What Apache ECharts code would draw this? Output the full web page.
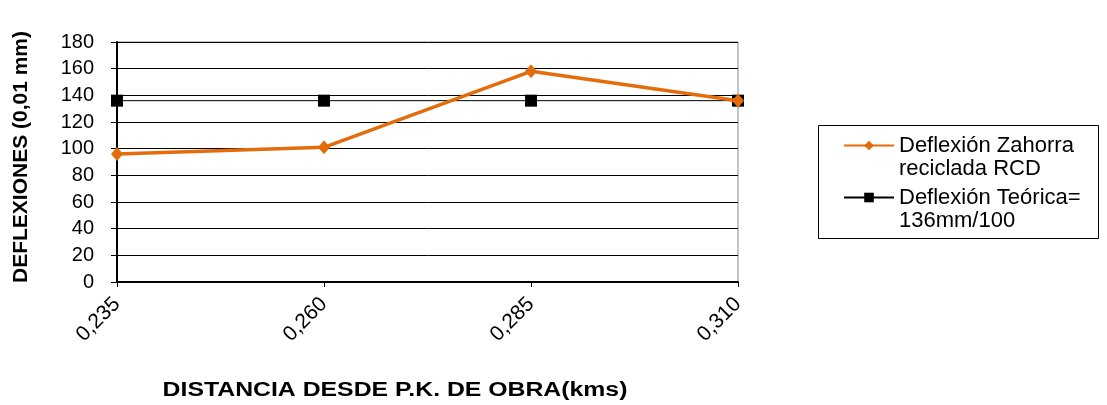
<!DOCTYPE html>
<html><head><meta charset="utf-8">
<script src="https://cdn.jsdelivr.net/npm/echarts@6/dist/echarts.min.js"></script>
<style>html,body{margin:0;padding:0;background:#fff}#c{width:1107px;height:405px}</style>
</head><body><div id="c"></div>
<script>
const categories = ['0,235', '0,260', '0,285', '0,310'];
const zahorra = [96, 101, 158, 136];
const teorica = [136, 136, 136, 136];
const yTicks = { min: 0, max: 180, interval: 20 };
const seriesNames = ['Deflexión Zahorra\nreciclada RCD', 'Deflexión Teórica=\n136mm/100'];
const xTitle = 'DISTANCIA DESDE P.K. DE OBRA(kms)';
const yTitle = 'DEFLEXIONES (0,01 mm)';

const chart = echarts.init(document.getElementById('c'), null, { renderer: 'canvas' });
const F = 'Liberation Sans, Arial, sans-serif';
chart.setOption({
  animation: false,
  backgroundColor: '#fff',
  grid: { left: 117, right: 369, top: 42, bottom: 123, show: true, borderColor: '#888', borderWidth: 1, backgroundColor: 'transparent' },
  xAxis: {
    type: 'category', data: categories, boundaryGap: false,
    axisLine: { lineStyle: { color: '#000', width: 2 } },
    axisTick: { show: true, length: 5, lineStyle: { color: '#000', width: 1 } },
    axisLabel: { rotate: 45, color: '#000', fontFamily: F, fontSize: 21, margin: 19 }
  },
  yAxis: {
    type: 'value', min: yTicks.min, max: yTicks.max, interval: yTicks.interval,
    axisLine: { show: true, lineStyle: { color: '#000', width: 2 } },
    axisTick: { show: true, length: 6, lineStyle: { color: '#000' } },
    axisLabel: { color: '#000', fontFamily: F, fontSize: 20, margin: 23 },
    splitLine: { lineStyle: { color: '#000', width: 1 } }
  },
  legend: {
    orient: 'vertical', left: 843, top: 111, padding: 0, itemWidth: 50, itemHeight: 12, itemGap: -17,
    formatter: name => ' \n' + name,
    textStyle: { fontFamily: F, fontSize: 22, color: '#000', lineHeight: 23 },
    data: seriesNames
  },
  graphic: [
    { type: 'rect', shape: { x: 818.5, y: 125.5, width: 280, height: 113 }, style: { fill: 'none', stroke: '#000', lineWidth: 1 } },
    { type: 'text', x: 395, y: 390, scaleX: 1.24, style: { text: xTitle, font: 'bold 20px ' + F, fill: '#000', textAlign: 'center', textVerticalAlign: 'middle' } },
    { type: 'text', x: 21, y: 157, rotation: Math.PI / 2, style: { text: yTitle, font: 'bold 21px ' + F, fill: '#000', textAlign: 'center', textVerticalAlign: 'middle' } }
  ],
  series: [
    { name: seriesNames[0], type: 'line', data: zahorra, symbol: 'diamond', symbolSize: [12, 14],
      lineStyle: { color: '#E46C0A', width: 3.5 }, itemStyle: { color: '#E46C0A' }, z: 3 },
    { name: seriesNames[1], type: 'line', data: teorica, symbol: 'rect', symbolSize: 12,
      lineStyle: { color: '#000', width: 1 }, itemStyle: { color: '#000' }, z: 2 }
  ]
});
</script></body></html>
